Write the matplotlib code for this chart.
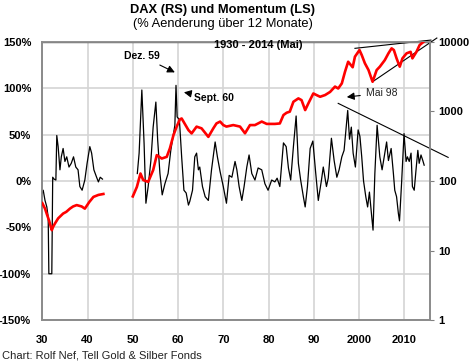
import matplotlib
matplotlib.use("Agg")
import matplotlib.pyplot as plt
import numpy as np

plt.rcParams['font.family'] = ['Liberation Sans', 'DejaVu Sans']

# ---- Momentum (% change over 12 months), left scale ----
mom1_years = [1930.0, 1930.2, 1930.6, 1931.0, 1931.3, 1931.45, 1931.8, 1932.1, 1932.3, 1932.6,
              1933.0, 1933.2, 1933.5, 1933.9, 1934.2, 1934.6, 1935.0, 1935.4, 1935.9, 1936.4,
              1936.9, 1937.4, 1937.9, 1938.3, 1938.8, 1939.4, 1939.9, 1940.5, 1940.9, 1941.4,
              1942.0, 1942.4, 1942.8, 1943.3]
mom1_vals = [-13, -10, -21, -28, -39, -100, -100, -100, 4, 2,
             1, 49, 37, 12, 26, 35, 21, 26, 15, 19,
             26, 15, 12, -6, -10, 1, 19, 37, 30, 12,
             4, -1, 4, 2]

mom2_years = [1951.0, 1951.4, 1952.0, 1952.5, 1952.9, 1953.4, 1954.0, 1954.5, 1955.1, 1955.5,
              1956.0, 1956.5, 1957.1, 1957.8, 1958.4, 1958.9, 1959.3, 1959.55, 1959.8, 1960.3,
              1960.8, 1961.3, 1961.8, 1962.3, 1962.6, 1963.2, 1963.7, 1964.1, 1964.5, 1964.8,
              1965.4, 1966.0, 1966.7, 1967.4, 1968.2, 1968.7, 1969.3, 1970.0, 1970.7, 1971.3,
              1971.9, 1972.6, 1973.0, 1973.5, 1974.1, 1974.6, 1975.2, 1975.7, 1976.3, 1977.0,
              1977.7, 1978.5, 1979.2, 1979.9, 1980.7, 1981.4, 1981.9, 1982.5, 1983.3, 1983.9,
              1984.4, 1984.9, 1985.5, 1986.1, 1986.6, 1987.1, 1987.7, 1988.1, 1988.6, 1989.2,
              1989.8, 1990.4, 1991.0, 1991.7, 1992.1, 1992.8, 1993.2, 1993.9, 1994.5, 1995.1,
              1995.6, 1996.2, 1996.7, 1997.5, 1997.9, 1998.3, 1998.7, 1999.2, 1999.8, 2000.2,
              2000.6, 2001.0, 2001.5, 2001.9, 2002.3, 2002.8, 2003.1, 2003.5, 2004.0, 2004.6,
              2005.1, 2005.7, 2006.1, 2006.5, 2007.1, 2007.6, 2007.9, 2008.3, 2008.7, 2008.95,
              2009.4, 2009.95, 2010.4, 2010.7, 2011.1, 2011.5, 2011.8, 2012.2, 2012.6, 2013.0,
              2013.3, 2013.7, 2014.1, 2014.4]
mom2_vals = [8, 30, 98, 40, -24, -6, 22, 58, 85, 44,
             8, -15, -3, 8, 33, 48, 60, 103, 69, 66,
             26, -10, -13, -26, -22, -10, 26, 30, 12, 15,
             -6, -17, -21, 12, 42, 26, 10, -6, -24, 6,
             4, 21, 12, -6, -21, -6, 15, 28, 8, 1,
             14, 12, -3, -10, 1, -1, 3, -6, 41, 37,
             14, 1, 37, 70, 19, 1, -17, -28, -6, 35,
             43, 10, -21, 1, 15, -6, 3, 46, 22, 4,
             12, 26, 33, 76, 45, 58, 30, 15, 55, 48,
             26, 0, -17, -28, -12, -38, -53, 8, 60, 26,
             12, 30, 42, 22, 35, 8, -10, -17, -35, -43,
             -3, 51, 21, 26, 21, 30, -6, -10, 12, 33,
             19, 28, 22, 17]

# ---- DAX index level, right (log) scale ----
dax1_years = [1930.0, 1930.6, 1931.1, 1931.5, 1932.1, 1932.4, 1932.8, 1933.5, 1934.6, 1935.3,
              1936.1, 1936.8, 1937.6, 1938.7, 1939.4, 1940.4, 1941.3, 1942.4, 1943.5]
dax1_vals = [48, 40, 32, 27, 19.6, 22, 24.5, 29, 34, 36,
             40, 43, 45, 43, 40, 50, 59, 63, 65]

dax2_years = [1950.0, 1950.9, 1951.7, 1952.3, 1953.4, 1954.5, 1955.3, 1956.4, 1957.5, 1958.2,
              1959.0, 1959.7, 1960.4, 1960.8, 1961.2, 1962.3, 1963.0, 1964.1, 1965.2, 1966.7,
              1967.8, 1968.5, 1969.3, 1970.0, 1970.7, 1972.2, 1973.7, 1974.8, 1975.9, 1977.0,
              1978.5, 1979.6, 1981.4, 1982.5, 1983.3, 1984.0, 1984.7, 1985.5, 1986.6, 1987.3,
              1988.1, 1988.8, 1989.9, 1990.6, 1991.4, 1992.5, 1993.6, 1994.7, 1995.4, 1996.2,
              1996.9, 1997.6, 1998.6, 1999.1, 2000.1, 2000.6, 2001.3, 2002.1, 2003.0, 2003.9,
              2004.6, 2005.7, 2006.5, 2007.2, 2007.7, 2008.3, 2009.0, 2009.6, 2010.5, 2011.4,
              2011.8, 2012.7, 2013.4, 2014.3]
dax2_vals = [60, 82, 128, 103, 97, 143, 235, 210, 222, 294,
             457, 603, 767, 790, 713, 538, 482, 603, 570, 430,
             570, 671, 713, 635, 604, 635, 604, 484, 635, 635,
             713, 660, 660, 670, 885, 955, 990, 1374, 1535, 1450,
             1043, 1300, 1807, 1715, 1620, 1715, 1900, 2270, 2130, 2520,
             3700, 5160, 4300, 6100, 7600, 6440, 4900, 3920, 2660, 3920,
             4380, 5450, 6810, 8040, 7600, 5770, 4380, 5770, 6810, 7170,
             5770, 7170, 8970, 10000]

x_ticks = [1930, 1940, 1950, 1960, 1970, 1980, 1990, 2000, 2010]
x_labels = ["30", "40", "50", "60", "70", "80", "90", "2000", "2010"]
left_ticks = [-150, -100, -50, 0, 50, 100, 150]
left_labels = ["-150%", "-100%", "-50%", "0%", "50%", "100%", "150%"]
right_ticks = [1, 10, 100, 1000, 10000]
right_labels = ["1", "10", "100", "1000", "10000"]

fig = plt.figure(figsize=(4.70, 3.63), dpi=100)
ax = fig.add_axes([0.090, 0.118, 0.825, 0.767])
ax2 = ax.twinx()

ax.plot(mom1_years, mom1_vals, color='black', lw=0.9, zorder=3)
ax.plot(mom2_years, mom2_vals, color='black', lw=0.9, zorder=3)
ax2.plot(dax1_years, dax1_vals, color='#ff0000', lw=1.9, zorder=3)
ax2.plot(dax2_years, dax2_vals, color='#ff0000', lw=1.9, zorder=3)

ax.set_xlim(1930, 2015.7)
ax.set_ylim(-150, 150)
ax2.set_yscale('log')
ax2.set_ylim(1, 10000)

ax.set_xticks(x_ticks)
ax.set_xticklabels(x_labels, fontsize=8, fontweight='bold')
ax.set_yticks(left_ticks)
ax.set_yticklabels(left_labels, fontsize=8, fontweight='bold')
ax2.set_yticks(right_ticks)
ax2.set_yticklabels(right_labels, fontsize=8, fontweight='bold')
ax2.minorticks_off()

ax.grid(True, color='#d4d4d4', lw=1.2)
ax.set_axisbelow(True)
ax.tick_params(axis='x', length=0, pad=11)
ax.tick_params(axis='y', length=0, pad=8)
ax2.tick_params(axis='y', length=3, direction='out', color='#808080', pad=3)

for a in (ax, ax2):
    for s in a.spines.values():
        s.set_color('#8c8c8c')
        s.set_linewidth(1.3)
ax.spines['top'].set_color('#555555')
ax.spines['top'].set_linewidth(1.0)

# trend lines
ax.plot([1999.1, 2015.9], [142.9, 151.8], color='black', lw=0.8, clip_on=False, zorder=4)
ax.plot([2003.0, 2017.2], [106.9, 154.0], color='black', lw=0.8, clip_on=False, zorder=4)
ax.plot([1995.4, 2019.7], [83.6, 25.4], color='black', lw=0.8, clip_on=False, zorder=4)

# annotations
ax.annotate("Dez. 59", xy=(1959.3, 117.0), xytext=(1951.9, 134.6), fontsize=7.5,
            fontweight='bold', ha='center', va='center',
            arrowprops=dict(arrowstyle='-|>', color='black', lw=0.8, mutation_scale=11,
                            shrinkA=2, shrinkB=0))
ax.annotate("Sept. 60", xy=(1961.3, 95.5), xytext=(1963.5, 89.3), fontsize=7.5,
            fontweight='bold', ha='left', va='center',
            arrowprops=dict(arrowstyle='-|>', color='black', lw=0.8, mutation_scale=11,
                            shrinkA=0, shrinkB=0))
ax.annotate("Mai 98", xy=(1997.3, 90.4), xytext=(2001.5, 94.7), fontsize=7.5,
            ha='left', va='center', color='#222222',
            arrowprops=dict(arrowstyle='-|>', color='black', lw=0.8, mutation_scale=11,
                            shrinkA=2, shrinkB=0))

fig.text(258 / 470, 1 - 45 / 363, "1930 - 2014 (Mai)", fontsize=8, fontweight='bold',
         ha='center', va='center')
fig.text(222 / 470, 1 - 10 / 363, "DAX (RS) und Momentum (LS)", fontsize=9.3,
         fontweight='bold', ha='center', va='center')
fig.text(223 / 470, 1 - 24 / 363, "(% Aenderung über 12 Monate)", fontsize=9.3,
         ha='center', va='center')
fig.text(2 / 470, 1 - 356 / 363, "Chart: Rolf Nef, Tell Gold & Silber Fonds", fontsize=8,
         ha='left', va='center', color='#222222')

fig.savefig("out.png", dpi=100)
